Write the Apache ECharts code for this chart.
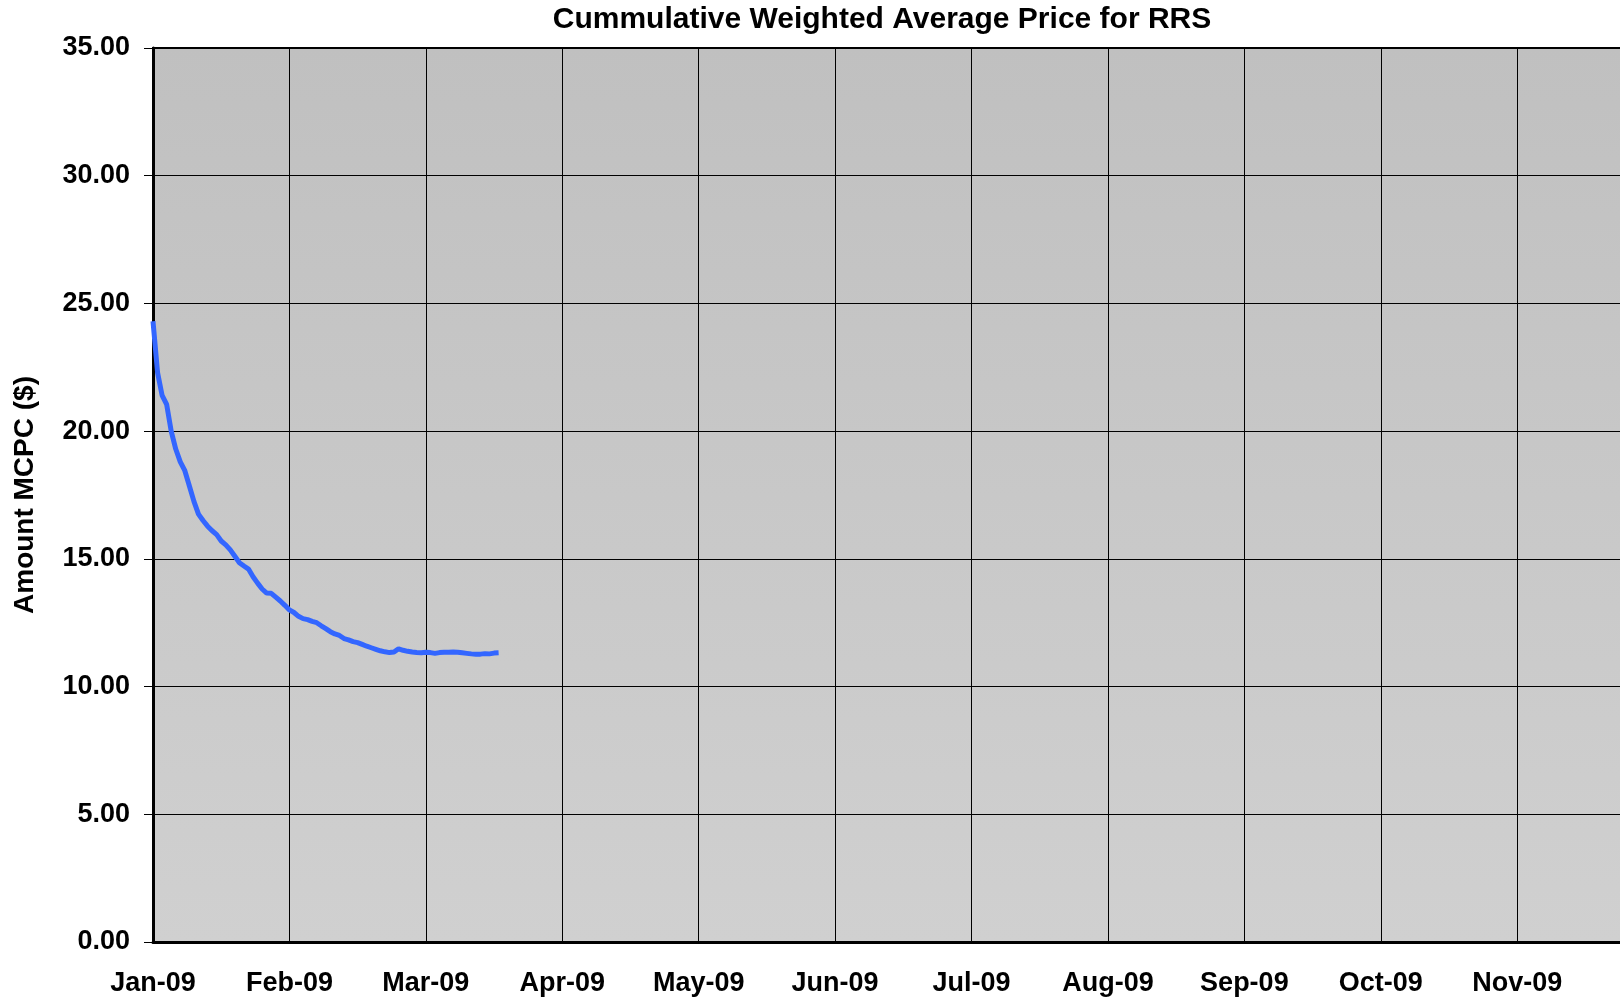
<!DOCTYPE html>
<html style="height: 100%">
<head>
  <meta charset="utf-8">
  <title>Cummulative Weighted Average Price for RRS</title>
  <script src="https://cdn.jsdelivr.net/npm/echarts@6/dist/echarts.min.js"></script>
</head>
<body style="height: 100%; margin: 0; background: #fff">
  <div id="main" style="width: 1620px; height: 997px"></div>
  <script type="text/javascript">
    // month labels, one every 30 days on the x axis
    var months = ['Jan-09', 'Feb-09', 'Mar-09', 'Apr-09', 'May-09', 'Jun-09',
                  'Jul-09', 'Aug-09', 'Sep-09', 'Oct-09', 'Nov-09', 'Dec-09'];
    var yTicks = [0, 5, 10, 15, 20, 25, 30, 35];

    // day offset from Jan 1 2009
    var days = [];
    for (var d = 0; d <= 76; d++) days.push(d);

    // cumulative weighted average price
    var price = [
      24.30, 22.30, 21.40, 21.05, 20.00, 19.30, 18.80, 18.45, 17.85, 17.25,
      16.75, 16.50, 16.28, 16.10, 15.95, 15.70, 15.55, 15.35, 15.10, 14.85,
      14.72, 14.60, 14.30, 14.05, 13.82, 13.66, 13.65, 13.50, 13.35, 13.18,
      13.00, 12.90, 12.75, 12.66, 12.62, 12.55, 12.50, 12.38, 12.27, 12.15,
      12.06, 12.00, 11.88, 11.83, 11.76, 11.72, 11.65, 11.58, 11.52, 11.46,
      11.40, 11.36, 11.33, 11.35, 11.48, 11.42, 11.38, 11.35, 11.33, 11.32,
      11.34, 11.33, 11.30, 11.33, 11.34, 11.34, 11.35, 11.34, 11.32, 11.30,
      11.28, 11.27, 11.27, 11.29, 11.28, 11.31, 11.32
    ];

    var seriesData = days.map(function (d, i) { return [d, price[i]]; });

    var font = '"Liberation Sans", Arial, sans-serif';

    var option = {
      animation: false,
      title: {
        text: 'Cummulative Weighted Average Price for RRS',
        left: 877,
        top: 0,
        textAlign: 'center',
        textStyle: { fontFamily: font, fontWeight: 'bold', fontSize: 30, color: '#000' }
      },
      grid: {
        left: 153,
        top: 48,
        right: -20,
        bottom: 55,
        containLabel: false,
        outerBoundsMode: 'none',
        show: true,
        borderColor: '#000',
        borderWidth: 2,
        backgroundColor: {
          type: 'linear', x: 0, y: 0, x2: 0, y2: 1,
          colorStops: [
            { offset: 0, color: '#c0c0c0' },
            { offset: 1, color: '#d0d0d0' }
          ]
        }
      },
      xAxis: {
        type: 'value',
        min: 0,
        max: 327,
        interval: 30,
        axisLine: { show: true, lineStyle: { color: '#000', width: 3 } },
        axisTick: { show: false },
        splitLine: { show: true, lineStyle: { color: '#000', width: 1 } },
        axisLabel: {
          margin: 28,
          showMaxLabel: false,
          fontFamily: font,
          fontWeight: 'bold',
          fontSize: 27,
          color: '#000',
          formatter: function (v) {
            return v % 30 === 0 ? months[v / 30] : '';
          }
        }
      },
      yAxis: {
        type: 'value',
        min: yTicks[0],
        max: yTicks[yTicks.length - 1],
        interval: 5,
        name: 'Amount MCPC ($)',
        nameLocation: 'middle',
        nameGap: 114,
        nameTextStyle: { fontFamily: font, fontWeight: 'bold', fontSize: 28, color: '#000' },
        axisLine: { show: true, lineStyle: { color: '#000', width: 3 } },
        axisTick: { show: true, length: 9, lineStyle: { color: '#000', width: 1 } },
        splitLine: { show: true, lineStyle: { color: '#000', width: 1 } },
        axisLabel: {
          margin: 23,
          padding: [4, 0, 0, 0],
          fontFamily: font,
          fontWeight: 'bold',
          fontSize: 27,
          color: '#000',
          formatter: function (v) { return v.toFixed(2); }
        }
      },
      series: [
        {
          name: 'RRS',
          type: 'line',
          data: seriesData,
          showSymbol: false,
          lineStyle: { color: '#3366ff', width: 5 },
          itemStyle: { color: '#3366ff' }
        }
      ]
    };

    var chart = echarts.init(document.getElementById('main'));
    chart.setOption(option);
  </script>
</body>
</html>
